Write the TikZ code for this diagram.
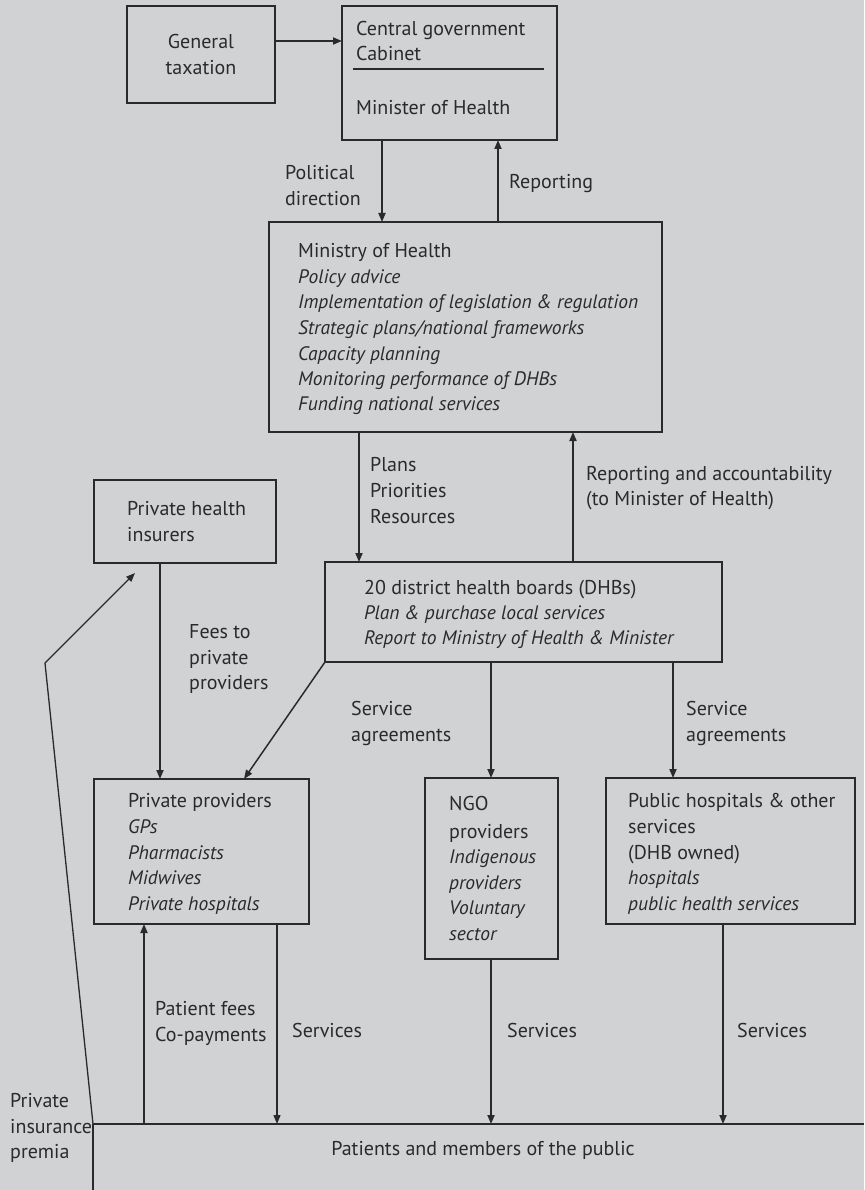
\documentclass[tikz,border=0pt]{standalone}
\usepackage{fontspec}
\setmainfont{PT Sans}
\usetikzlibrary{arrows.meta,calc}

\definecolor{paper}{HTML}{D1D2D4}
\definecolor{ink}{HTML}{2A2A2A}

\tikzset{
  box/.style={draw=ink, line width=1.5pt, inner sep=0pt, outer sep=0pt, anchor=north west},
  tip/.style={-{Triangle[length=9pt,width=7pt]}},
  arr/.style={draw=ink, line width=1.8pt, tip},
  thin/.style={draw=ink, line width=1.3pt},
  txt/.style={anchor=base west, inner sep=0pt, yshift=-1pt, text=ink, font=\fontsize{20pt}{24pt}\selectfont},
  itxt/.style={txt, font=\fontsize{19.5pt}{24pt}\selectfont\itshape},
  ctxt/.style={txt, anchor=base},
}

\begin{document}
\begin{tikzpicture}[x=1pt,y=-1pt]
\fill[paper] (0,0) rectangle (864,1190);
\useasboundingbox (0,0) rectangle (864,1190);

% boxes
\node[box, minimum width=148pt, minimum height=97pt]  (gt)  at (127,6)   {};
\node[box, minimum width=215pt, minimum height=134pt] (cg)  at (342,6)   {};
\node[box, minimum width=393pt, minimum height=210pt] (moh) at (269,222) {};
\node[box, minimum width=182pt, minimum height=83pt]  (phi) at (94,480)  {};
\node[box, minimum width=397pt, minimum height=100pt] (dhb) at (325,562) {};
\node[box, minimum width=215pt, minimum height=145pt] (pp)  at (94,779)  {};
\node[box, minimum width=133pt, minimum height=181pt] (ngo) at (425,778) {};
\node[box, minimum width=249pt, minimum height=146pt] (pub) at (606,778) {};

% patients line
\coordinate (baseL) at (93,1124);
\coordinate (baseR) at (864,1124);
\coordinate (baseB) at (93,1190);
\coordinate (bend)  at (45,663);
\coordinate (prem)  at (135,573);
\draw[ink, line width=2pt] (baseL) -- (baseR);
\draw[thin] (baseB) -- (baseL);

% texts: general taxation
\node[ctxt] (gt1) at (201,48) {General};
\node[ctxt] (gt2) at (201,74) {taxation};

% central government
\node[txt] (cg1) at (356,35)  {Central government};
\node[txt] (cg2) at (356,60)  {Cabinet};
\node[txt] (cg3) at (356,114) {Minister of Health};
\draw[ink, line width=1.5pt] ($(cg.north west)+(11,63)$) -- ($(cg.north west)+(202,63)$);

% flows between government and ministry
\draw[arr] (gt.east |- 0,41) -- (cg.west |- 0,41);
\draw[arr] (cg.south -| 382,0) -- (moh.north -| 382,0);
\draw[arr] (moh.north -| 498,0) -- (cg.south -| 498,0);
\node[txt] (pd1) at (285,179) {Political};
\node[txt] (pd2) at (285,205) {direction};
\node[txt] (rep) at (509,188) {Reporting};

% ministry of health
\node[txt]  (m1) at (298,256) {Ministry of Health};
\node[itxt] (m2) at (298,282) {Policy advice};
\node[itxt] (m3) at (298,307) {Implementation of legislation \& regulation};
\node[itxt] (m4) at (298,333) {Strategic plans/national frameworks};
\node[itxt] (m5) at (298,359) {Capacity planning};
\node[itxt] (m6) at (298,384) {Monitoring performance of DHBs};
\node[itxt] (m7) at (298,409) {Funding national services};

% ministry <-> DHBs
\draw[arr] (moh.south -| 359,0) -- (dhb.north -| 359,0);
\draw[arr] (dhb.north -| 573,0) -- (moh.south -| 573,0);
\node[txt] (pl1) at (370,470) {Plans};
\node[txt] (pl2) at (370,496) {Priorities};
\node[txt] (pl3) at (370,522) {Resources};
\node[txt] (ra1) at (586,479) {Reporting and accountability};
\node[txt] (ra2) at (586,504) {(to Minister of Health)};

% private health insurers
\node[txt] (ph1) at (127,514) {Private health};
\node[txt] (ph2) at (127,540) {insurers};

% district health boards
\node[txt]  (d1) at (364,593) {20 district health boards (DHBs)};
\node[itxt] (d2) at (364,618) {Plan \& purchase local services};
\node[itxt] (d3) at (364,643) {Report to Ministry of Health \& Minister};

% funding flows to providers
\draw[arr] (phi.south -| 160,0) -- (pp.north -| 160,0);
\node[txt] (f1) at (189,637) {Fees to};
\node[txt] (f2) at (189,663) {private};
\node[txt] (f3) at (189,688) {providers};
\draw[ink, line width=1.5pt, tip] (dhb.south west) -- (pp.north -| 244,0);
\draw[arr] (dhb.south -| 491,0) -- (ngo.north -| 491,0);
\draw[arr] (dhb.south -| 673,0) -- (pub.north -| 673,0);
\node[txt] (sa1) at (351,714) {Service};
\node[txt] (sa2) at (351,740) {agreements};
\node[txt] (sb1) at (686,714) {Service};
\node[txt] (sb2) at (686,740) {agreements};

% private providers
\node[txt]  (p1) at (128,806) {Private providers};
\node[itxt] (p2) at (128,832) {GPs};
\node[itxt] (p3) at (128,858) {Pharmacists};
\node[itxt] (p4) at (128,883) {Midwives};
\node[itxt] (p5) at (128,909) {Private hospitals};

% NGO providers
\node[txt]  (n1) at (449,809) {NGO};
\node[txt]  (n2) at (449,837) {providers};
\node[itxt] (n3) at (449,862) {Indigenous};
\node[itxt] (n4) at (449,888) {providers};
\node[itxt] (n5) at (449,913) {Voluntary};
\node[itxt] (n6) at (449,939) {sector};

% public hospitals
\node[txt]  (h1) at (628,806) {Public hospitals \& other};
\node[txt]  (h2) at (628,832) {services};
\node[txt]  (h3) at (628,858) {(DHB owned)};
\node[itxt] (h4) at (628,883) {hospitals};
\node[itxt] (h5) at (628,909) {public health services};

% flows to and from the public
\draw[arr] (baseL -| 144,0) -- (pp.south -| 144,0);
\draw[ink, line width=1.3pt, tip] (pp.south -| 277,0) -- (baseL -| 277,0);
\draw[arr] (ngo.south -| 491,0) -- (baseL -| 491,0);
\draw[arr] (pub.south -| 723,0) -- (baseL -| 723,0);
\node[txt] (pf1) at (155,1014) {Patient fees};
\node[txt] (pf2) at (155,1040) {Co-payments};
\node[txt] (sv1) at (292,1036) {Services};
\node[txt] (sv2) at (507,1036) {Services};
\node[txt] (sv3) at (737,1036) {Services};

% private insurance premia
\draw[thin, tip] (baseL) -- (bend) -- (prem);
\node[txt] (pi1) at (10,1106) {Private};
\node[txt] (pi2) at (10,1132) {insurance};
\node[txt] (pi3) at (10,1157) {premia};

\node[ctxt] (pat) at (483,1154) {Patients and members of the public};
\end{tikzpicture}
\end{document}
